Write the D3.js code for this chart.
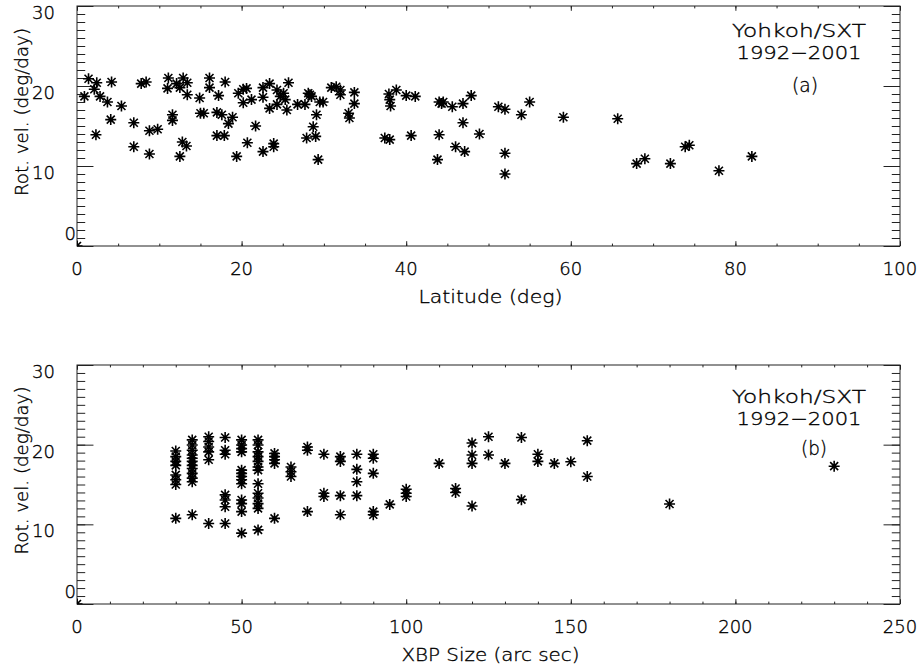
<!DOCTYPE html>
<html>
<head>
<meta charset="utf-8">
<script src="https://cdn.jsdelivr.net/npm/d3@7"></script>
<style>
	body { margin: 0; background: #fff; }
	text { font-family: "DejaVu Sans ExtraLight", "DejaVu Sans", sans-serif; font-weight: 200; fill: #000; stroke: #000; stroke-width: 0.35; }
</style>
</head>
<body>
<div id="chart"></div>
<script>
// Panel (a): rotation velocity against latitude
var latitude = [0, 1.4, 0.9, 2.1, 2.4, 2.8, 2.3, 3.7, 4.2, 4.1, 5.4, 6.9, 6.9, 7.8, 8.4, 8.8, 9.8, 8.8,
	11.1, 11.0, 12.1, 11.6, 11.6, 12.5, 12.9, 13.4, 13.4, 12.5, 12.8, 13.3, 14.9, 15.0, 15.4, 16.1, 16.1,
	17.2, 17.0, 17.6, 18.0, 18.4, 18.9, 17.0, 17.9, 19.4, 19.6, 20.2, 20.6, 20.2, 21.2, 20.7, 21.7,
	22.6, 22.6, 23.4, 23.4, 22.6, 23.9, 23.9, 24.3, 24.7, 25.1, 25.3, 24.3, 25.7, 25.5, 26.8, 27.7,
	28.1, 28.3, 28.5, 29.1, 28.7, 27.9, 29.0, 29.3, 29.5, 29.9, 30.9, 31.5, 32.0, 32.0, 33.0, 33.1,
	33.7, 33.7, 37.9, 38.0, 38.1, 38.8, 40.0, 41.1, 37.4, 38.0, 40.6, 44.0, 44.3, 44.5, 44.0, 43.8,
	45.6, 46.9, 46.9, 47.9, 46.0, 47.1, 48.9, 51.2, 52.0, 54.0, 55.0, 59.1, 65.7, 52.0, 52.0,
	68.0, 69.0, 72.1, 73.9, 74.4, 78.0, 82.0];
var rotVelLat = [0, 20.9, 18.7, 19.6, 20.4, 18.7, 13.9, 18.0, 20.5, 15.8, 17.5, 15.4, 12.4, 20.3, 20.5, 14.4, 14.6, 11.5,
	21.0, 19.7, 20.3, 16.4, 15.7, 19.8, 21.0, 20.4, 18.9, 11.2, 13.0, 12.5, 18.5, 16.6, 16.6, 21.0, 19.8,
	18.8, 16.7, 16.4, 20.5, 15.3, 16.1, 13.8, 13.8, 11.2, 19.1, 19.6, 19.7, 17.9, 18.3, 12.9, 15.0,
	19.8, 18.6, 20.3, 17.2, 11.8, 12.4, 12.8, 19.5, 18.7, 19.1, 18.3, 17.7, 20.4, 17.0, 17.7, 17.7,
	19.1, 18.9, 18.7, 16.4, 14.9, 13.5, 13.7, 10.8, 18.0, 18.0, 19.8, 19.9, 19.5, 18.9, 16.6, 16.0,
	19.2, 17.8, 19.0, 18.3, 17.5, 19.5, 18.8, 18.7, 13.5, 13.3, 13.8, 18.0, 17.8, 18.0, 13.9, 10.8,
	17.4, 17.8, 15.4, 18.8, 12.4, 11.8, 14.0, 17.4, 17.1, 16.4, 18.0, 16.1, 15.9, 11.6, 9.0,
	10.3, 10.9, 10.3, 12.4, 12.6, 9.4, 11.2];

// Panel (b): rotation velocity against XBP size
var xbpSize = [0,
	30, 30, 30, 30, 30, 30, 30, 30,
	35, 35, 35, 35, 35, 35, 35, 35, 35, 35, 35, 35,
	40, 40, 40, 40, 40, 40,
	45, 45, 45, 45, 45, 45, 45,
	50, 50, 50, 50, 50, 50, 50, 50, 50, 50, 50, 50, 50,
	55, 55, 55, 55, 55, 55, 55, 55, 55, 55, 55, 55, 55,
	60, 60, 60, 60, 60,
	65, 65, 65,
	70, 70, 70,
	75, 75, 75,
	80, 80, 80, 80,
	85, 85, 85, 85,
	90, 90, 90, 90, 90,
	95, 100, 100, 100, 110, 115, 115,
	120, 120, 120, 120, 125, 125, 130, 135, 135, 140, 140, 145, 150, 155, 155, 180, 230];
var rotVelSize = [0,
	19.2, 18.5, 17.9, 17.4, 16.2, 15.6, 15.0, 10.75,
	20.6, 19.95, 19.3, 18.7, 18.3, 17.9, 17.4, 17.0, 16.4, 15.8, 15.35, 11.2,
	21.0, 20.4, 19.7, 19.1, 18.1, 10.1,
	20.9, 19.3, 18.8, 13.7, 13.05, 12.2, 10.1,
	20.6, 19.95, 19.5, 19.1, 16.8, 16.4, 16.0, 15.6, 15.1, 13.05, 12.6, 11.6, 8.9,
	20.6, 19.95, 19.1, 18.5, 17.9, 17.2, 16.8, 15.1, 13.9, 13.3, 12.6, 12.0, 9.3,
	18.9, 18.5, 18.1, 17.65, 10.75,
	17.2, 16.6, 16.0,
	19.7, 19.3, 11.6,
	18.8, 13.9, 13.5,
	18.5, 17.9, 13.6, 11.2,
	18.8, 16.9, 15.35, 13.6,
	18.8, 18.3, 16.4, 11.6, 11.2,
	12.5, 14.4, 13.9, 13.5, 17.65, 14.5, 14.0,
	20.2, 18.7, 17.65, 12.3, 21.0, 18.7, 17.65, 20.9, 13.1, 18.8, 17.9, 17.65, 17.85, 20.5, 16.0, 12.55, 17.3];

// Tick values
var rotVelTicks = [0, 10, 20, 30];
var latTicks = [0, 20, 40, 60, 80, 100];
var sizeTicks = [0, 50, 100, 150, 200, 250];

var svgWidth = 920;
var svgHeight = 668;
var margin = { left: 77, right: 20 };
var width = svgWidth - margin.left - margin.right;

var svg = d3.select('#chart').append('svg').attr('width', svgWidth).attr('height', svgHeight);

// IDL style asterisk (psym=2)
var starPath = 'M-5.5,0L5.5,0M0,-5.5L0,5.5M-4,-4L4,4M-4,4L4,-4';

function drawPanel(p) {
	var height = p.height;
	var g = svg.append('g').attr('transform', `translate(${margin.left}, ${p.top})`);

	var xScale = d3.scaleLinear().domain(p.xDomain).range([ 0, width ]);
	var yScale = d3.scaleLinear().domain([ 0, 30 ]).range([ height, 0 ]);

	// Minor tick values
	var xMinor = d3.range(p.xDomain[0], p.xDomain[1] + 0.001, p.xMinorStep);
	var yMinor = d3.range(0, 30.001, 1);

	// Ticks point inwards on all four sides
	var majX = 0.02 * height, majY = 0.02 * width;
	function ticks(axis, values, size, transform) {
		g.append('g')
			.attr('transform', transform)
			.attr('color', '#222')
			.call(axis.tickValues(values).tickSize(-size).tickFormat(''))
			.call((a) => a.select('.domain').remove());
	}
	ticks(d3.axisBottom(xScale), p.xTicks, majX, `translate(0, ${height})`);
	ticks(d3.axisBottom(xScale), xMinor, majX / 2, `translate(0, ${height})`);
	ticks(d3.axisTop(xScale), p.xTicks, majX, 'translate(0, 0)');
	ticks(d3.axisTop(xScale), xMinor, majX / 2, 'translate(0, 0)');
	ticks(d3.axisLeft(yScale), rotVelTicks, majY, 'translate(0, 0)');
	ticks(d3.axisLeft(yScale), yMinor, majY / 2, 'translate(0, 0)');
	ticks(d3.axisRight(yScale), rotVelTicks, majY, `translate(${width}, 0)`);
	ticks(d3.axisRight(yScale), yMinor, majY / 2, `translate(${width}, 0)`);

	// Plot frame
	g.append('rect')
		.attr('width', width)
		.attr('height', height)
		.attr('fill', 'none')
		.attr('stroke', '#222')
		.attr('stroke-width', 1);

	// Clip the markers to the plot area
	g.append('clipPath').attr('id', p.id + 'clip').append('rect').attr('width', width).attr('height', height);

	g.append('g')
		.attr('clip-path', `url(#${p.id}clip)`)
		.selectAll('path')
		.data(p.xs)
		.enter()
		.append('path')
		.attr('transform', (d, i) => `translate(${xScale(d)}, ${yScale(p.ys[i])})`)
		.attr('d', starPath)
		.attr('fill', 'none')
		.attr('stroke', '#000')
		.attr('stroke-width', 1.6);

	// X tick labels
	g.selectAll('.xlab')
		.data(p.xTicks)
		.enter()
		.append('text')
		.attr('class', 'xlab')
		.attr('x', (d) => xScale(d))
		.attr('y', height + 29)
		.attr('text-anchor', 'middle')
		.attr('font-size', '18px')
		.text((d) => d);

	// Y tick labels hang below the tick, the lowest one sits on the axis
	g.selectAll('.ylab')
		.data(rotVelTicks)
		.enter()
		.append('text')
		.attr('class', 'ylab')
		.attr('x', (d) => (yScale(d) + 13 > height - 6 ? -1 : -22))
		.attr('y', (d) => Math.min(yScale(d) + 13, height - 6))
		.attr('text-anchor', 'end')
		.attr('font-size', '18px')
		.text((d) => d);

	// Axis titles
	g.append('text')
		.attr('x', width / 2 + 2)
		.attr('y', height + 57)
		.attr('text-anchor', 'middle')
		.attr('font-size', '18px')
		.attr('textLength', p.xTitleLen)
		.attr('lengthAdjust', 'spacingAndGlyphs')
		.text(p.xTitle);

	g.append('text')
		.attr('transform', `translate(-49, ${height / 2 - 14}) rotate(-90)`)
		.attr('text-anchor', 'middle')
		.attr('font-size', '18px')
		.attr('textLength', 168)
		.attr('lengthAdjust', 'spacingAndGlyphs')
		.text('Rot. vel. (deg/day)');

	// Annotation in the upper right corner
	p.notes.forEach(function(n) {
		var t = g.append('text')
			.attr('x', n.x - margin.left)
			.attr('y', n.y)
			.attr('text-anchor', 'middle')
			.attr('font-size', n.size || '18px')
			.text(n.text);
		if (n.len) {
			t.attr('textLength', n.len).attr('lengthAdjust', 'spacingAndGlyphs');
		}
	});
}

drawPanel({
	id: 'a',
	top: 6,
	height: 240,
	xDomain: [ 0, 100 ],
	xTicks: latTicks,
	xMinorStep: 5,
	xs: latitude,
	ys: rotVelLat,
	xTitle: 'Latitude (deg)',
	xTitleLen: 144,
	notes: [
		{ text: 'Yohkoh/SXT', x: 799, y: 31, len: 134 },
		{ text: '1992\u22122001', x: 799, y: 53, len: 125 },
		{ text: '(a)', x: 805, y: 86, size: '20px', len: 26 }
	]
});

drawPanel({
	id: 'b',
	top: 365,
	height: 239,
	xDomain: [ 0, 250 ],
	xTicks: sizeTicks,
	xMinorStep: 10,
	xs: xbpSize,
	ys: rotVelSize,
	xTitle: 'XBP Size (arc sec)',
	xTitleLen: 178,
	notes: [
		{ text: 'Yohkoh/SXT', x: 799, y: 38, len: 134 },
		{ text: '1992\u22122001', x: 799, y: 60, len: 125 },
		{ text: '(b)', x: 814, y: 90, size: '20px', len: 26 }
	]
});
</script>
</body>
</html>
